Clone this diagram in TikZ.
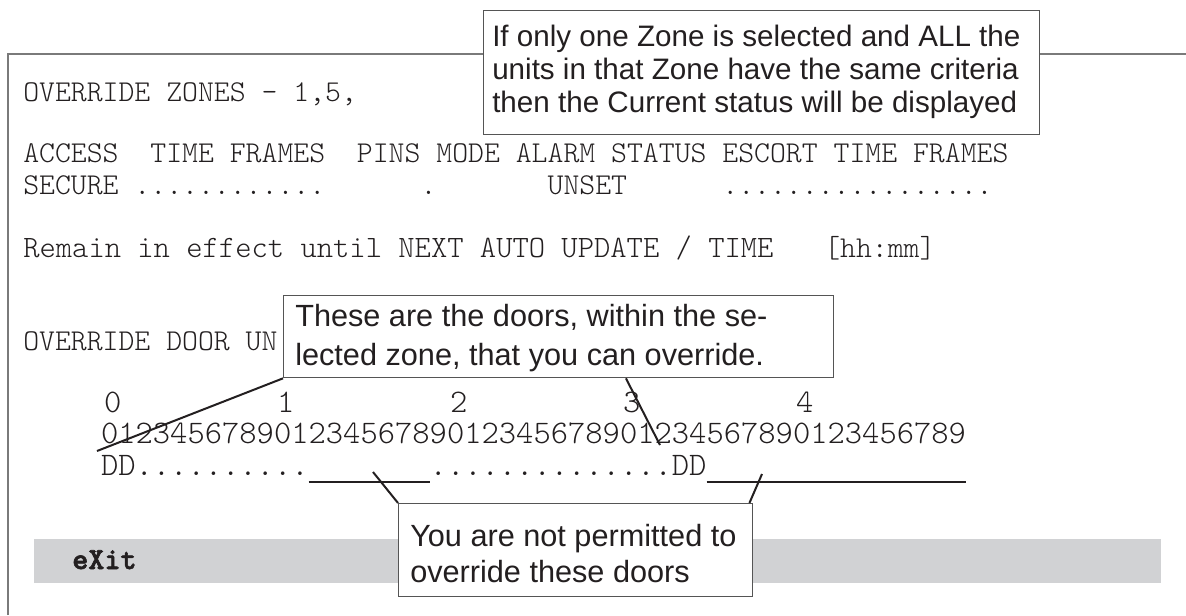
\documentclass[tikz,border=0pt]{standalone}
\usepackage{fontspec}
\usetikzlibrary{calc}
\newfontfamily\arialf{Liberation Sans}
\newfontfamily\scrmono{lmmonolt10-regular.otf}
\newfontfamily\scrmonob[FakeBold=2]{lmmonolt10-bold.otf}
\definecolor{txt}{HTML}{231F20}
\definecolor{framegray}{HTML}{7A7A7A}
\definecolor{boxgray}{HTML}{555555}
\definecolor{barfill}{HTML}{D1D2D4}
\tikzset{
  mono/.style={font=\scrmono\fontsize{22.7}{22.7}\selectfont, inner sep=0pt, anchor=base west, text=txt},
  monowide/.style={font=\scrmono\fontsize{23.3}{23.3}\selectfont, inner sep=0pt, anchor=base west, text=txt},
  digit/.style={font=\scrmono\fontsize{24.7}{24.7}\selectfont, inner sep=0pt, anchor=base, text=txt},
  exitlbl/.style={font=\scrmonob\fontsize{23}{23}\selectfont, inner sep=0pt, anchor=base west, text=txt},
  note/.style={font=\arialf\fontsize{23}{23}\selectfont, inner sep=0pt, anchor=base west, text=txt},
  notesmall/.style={font=\arialf\fontsize{22.2}{22.2}\selectfont, inner sep=0pt, anchor=base west, text=txt},
  callout/.style={draw=boxgray, line width=1pt, fill=white, inner sep=0pt, anchor=north west},
  frameline/.style={draw=framegray, line width=0.9pt},
  pointer/.style={draw=txt, line width=1.5pt},
  uline/.style={draw=txt, line width=0.9pt},
}
\begin{document}
\begin{tikzpicture}[x=0.75pt,y=-0.75pt]
\useasboundingbox[fill=white] (0,0) rectangle (1186,615);
% outer frame (top and left edges only)
\coordinate (fTL) at (8,54);
\coordinate (fTR) at (1186,54);
\coordinate (fBL) at (8,615);
\draw[frameline] (fBL) -- (fTL) -- (fTR);
% grey command bar
\node[fill=barfill, inner sep=0pt, anchor=north west, minimum width=1127*0.75pt, minimum height=44*0.75pt] (bar) at (34,539) {};
\node[exitlbl] (exit) at (72,569) {eXit};
% screen text
\node[mono] (t1) at (23,101) {OVERRIDE ZONES - 1,5,};
\node[mono] (t2) at (23,162) {ACCESS~~TIME FRAMES~~PINS MODE ALARM STATUS ESCORT TIME FRAMES};
\node[mono] (t3) at (23,194) {SECURE ............~~~~~~.~~~~~~~UNSET~~~~~~.................};
\node[monowide] (t4) at (23,257) {Remain in effect until NEXT AUTO UPDATE / TIME};
\node[mono] (t4b) at (824,257) {[hh:mm]};
\node[mono] (t5) at (23,350) {OVERRIDE DOOR UN};
% door number rows
\foreach \k in {0,...,4} {
  \node[digit] (lab\k) at ({101+17.3*(10*\k+0.5)+3},412) {\k};
}
\foreach \i in {0,...,49} {
  \pgfmathtruncatemacro\dd{mod(\i,10)}
  \node[digit] (dig\i) at ({101+17.3*(\i+0.5)},443) {\dd};
}
\foreach \i in {0,1,33,34} {
  \node[digit] (dd\i) at ({101+17.3*(\i+0.5)},475) {D};
}
\foreach \i in {2,...,11} {
  \node[digit] (dt\i) at ({101+17.3*(\i+0.5)},475) {.};
}
\foreach \i in {19,...,32} {
  \node[digit] (dt\i) at ({101+17.3*(\i+0.5)},475) {.};
}
\coordinate (u1a) at ({101+17.3*12},482);
\coordinate (u1b) at ({101+17.3*19},482);
\coordinate (u2a) at ({101+17.3*35},482);
\coordinate (u2b) at ({101+17.3*50},482);
\draw[uline] (u1a) -- (u1b);
\draw[uline] (u2a) -- (u2b);
% callout 1
\node[callout, minimum width=556*0.75pt, minimum height=124*0.75pt] (b1) at (483,10) {};
\node[notesmall] (b1l1) at (492,46) {If only one Zone is selected and ALL the};
\node[notesmall] (b1l2) at (492,79) {units in that Zone have the same criteria};
\node[notesmall] (b1l3) at (492,112) {then the Current status will be displayed};
% callout 2
\node[callout, minimum width=550*0.75pt, minimum height=82*0.75pt] (b2) at (283,295) {};
\node[note] (b2l1) at (295,326) {These are the doors, within the se-};
\node[note] (b2l2) at (295,365) {lected zone, that you can override.};
% callout 3
\node[callout, minimum width=354*0.75pt, minimum height=93*0.75pt] (b3) at (398,503) {};
\node[note] (b3l1) at (410,546) {You are not permitted to};
\node[note] (b3l2) at (410,582) {override these doors};
% pointers
\coordinate (pA) at (97,451);
\coordinate (pB) at (660,445);
\coordinate (pC) at (373,472);
\coordinate (pD) at (762,474);
\draw[pointer] (b2.south west) -- (pA);
\draw[pointer] ($(b2.south west)!0.622!(b2.south east)$) -- (pB);
\draw[pointer] (b3.north west) -- (pC);
\draw[pointer] ($(b3.north west)!0.989!(b3.north east)$) -- (pD);
\end{tikzpicture}
\end{document}
